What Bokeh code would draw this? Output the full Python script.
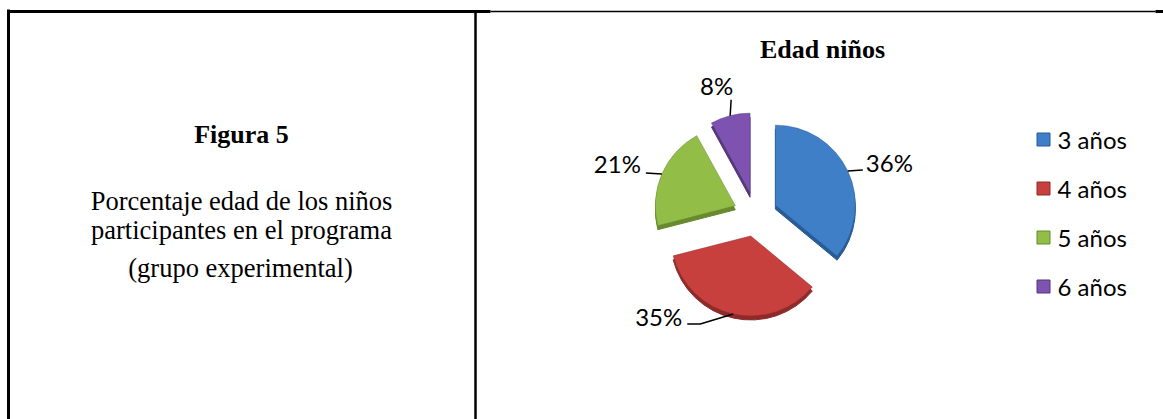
import numpy as np
from bokeh.plotting import figure
from bokeh.models import Range1d, ColumnDataSource
from bokeh.core.properties import value
from bokeh.embed import file_html
from bokeh.resources import INLINE

# ---------------- data ----------------
categories = ["3 años", "4 años", "5 años", "6 años"]
percent = [36, 35, 21, 8]
pct_labels = ["36%", "35%", "21%", "8%"]
colors = ["#3F7FC8", "#C8403E", "#92BE48", "#7D52B0"]
dark_colors = ["#2A5B96", "#8E2A29", "#68892E", "#54367A"]
chart_title = "Edad niños"
side_head = "Figura 5"
side_lines = ["Porcentaje edad de los niños", "participantes en el programa", "(grupo experimental)"]

# ---------------- canvas ----------------
W, H = 1163, 419


def Y(v):
    return H - v


p = figure(width=W, height=H, x_range=Range1d(0, W), y_range=Range1d(0, H),
           output_backend="svg", toolbar_location=None,
           x_axis_location=None, y_axis_location=None, min_border=0)
p.outline_line_color = None
p.grid.visible = False
p.background_fill_color = "white"
p.border_fill_color = "white"

# ---------------- table borders ----------------
p.segment(x0=[8, 7, 490, 1155, 475], y0=[Y(9), Y(11), Y(11), Y(11), Y(10)],
          x1=[8, 490, 1155, 1163, 475], y1=[Y(419), Y(11), Y(11), Y(11), Y(419)],
          line_color="black", line_width=[3, 3, 1.5, 3, 2.5])

# ---------------- left cell text ----------------
p.text(x=[241], y=[Y(134)], text=[side_head], text_font=value("Liberation Serif"),
       text_font_style="bold", text_font_size="26px", text_align="center",
       text_baseline="middle", text_color="black")
p.text(x=[241, 241, 240], y=[Y(200), Y(229), Y(267)], text=side_lines,
       text_font=value("Liberation Serif"), text_font_size="26.5px",
       text_align="center", text_baseline="middle", text_color="black")

# ---------------- pie ----------------
cx, cy, R, explode = 755, 214, 80, 22
frac = np.array(percent, dtype=float) / sum(percent)
ends = np.cumsum(frac) * 2 * np.pi          # clockwise from 12 o'clock
starts = ends - frac * 2 * np.pi
mid = (starts + ends) / 2
ox = cx + explode * np.sin(mid)
oy = Y(cy) + explode * np.cos(mid)

src = ColumnDataSource(dict(x=ox, y=oy, yd=oy - 4, start=np.pi / 2 - ends,
                            end=np.pi / 2 - starts, color=colors, dark=dark_colors))
# depth (3D side)
p.wedge(x="x", y="yd", radius=R, start_angle="start", end_angle="end",
        fill_color="dark", line_color="dark", line_width=1, source=src)
# top faces
p.wedge(x="x", y="y", radius=R, start_angle="start", end_angle="end",
        fill_color="color", line_color="dark", line_alpha=0.5, line_width=1, source=src)

# ---------------- leader lines + labels ----------------
ax = ox + R * np.sin(mid)
ay = oy + R * np.cos(mid)
# per-slice leader layout in screen px offsets (dx, dy down)
leader_pts = [[(0, 0), (15, -1)], [(0, 0), (-33, 10), (-46, 10)], [(0, 0), (-16, -1)], [(0, 0), (1, -16)]]
# text centre offsets (dx, dy down, align)
text_off = [(18, -9, "left"), (-51, 2, "right"), (-21, -10, "right"), (3, -30, "right")]
xs, ys = [], []
for i in range(len(percent)):
    xs.append([ax[i] + d[0] for d in leader_pts[i]])
    ys.append([ay[i] - d[1] for d in leader_pts[i]])
p.multi_line(xs=xs, ys=ys, line_color="black", line_width=1.5)
for i in range(len(percent)):
    p.text(x=[ax[i] + text_off[i][0]], y=[ay[i] - text_off[i][1]], text=[pct_labels[i]],
           text_font=value("Lato"), text_font_size="24px", text_align=text_off[i][2],
           text_baseline="middle", text_color="black")

# ---------------- title ----------------
p.text(x=[822], y=[Y(49)], text=[chart_title], text_font=value("Liberation Serif"),
       text_font_style="bold", text_font_size="26px", text_align="center",
       text_baseline="middle", text_color="black")

# ---------------- legend ----------------
ly = [Y(139 + 49 * i) for i in range(len(categories))]
p.scatter(x=[1043] * len(categories), y=ly, marker="square", size=13,
          fill_color=colors, line_color=dark_colors, line_width=1)
p.text(x=[1057] * len(categories), y=ly, text=categories,
       text_font=value("Lato"), text_font_size="24px", text_align="left",
       text_baseline="middle", text_color="black")

open("out.html", "w").write(file_html(p, INLINE))
